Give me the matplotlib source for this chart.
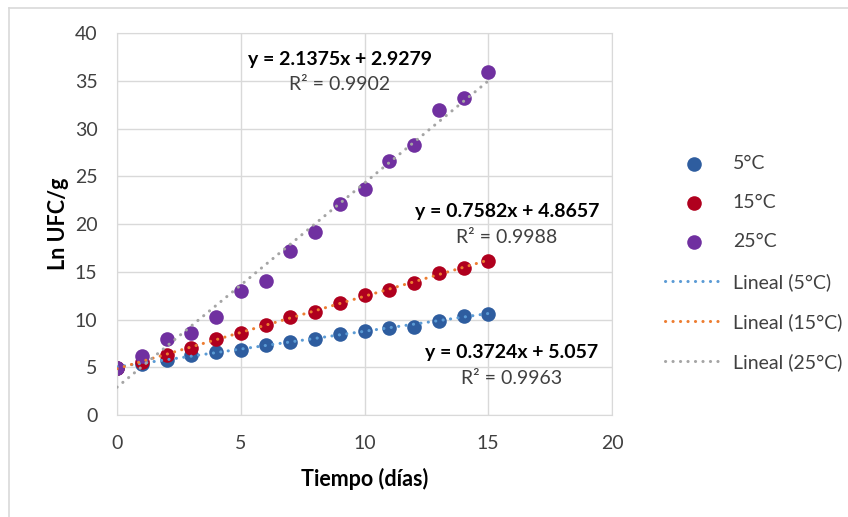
import matplotlib.pyplot as plt
import numpy as np
from matplotlib.lines import Line2D

plt.rcParams['font.family'] = ['Lato', 'DejaVu Sans']

# Days of measurement
dias = np.arange(0, 16)

# Ln UFC/g
ln_5 = [4.9, 5.4, 5.8, 6.3, 6.6, 6.85, 7.3, 7.65, 8.0, 8.45, 8.85, 9.1, 9.2, 9.9, 10.4, 10.6]
ln_15 = [4.9, 5.55, 6.3, 7.05, 8.0, 8.6, 9.45, 10.25, 10.85, 11.7, 12.6, 13.1, 13.85, 14.9, 15.4, 16.1]
ln_25 = [4.9, 6.15, 8.0, 8.6, 10.25, 13.05, 14.0, 17.2, 19.2, 22.1, 23.7, 26.6, 28.3, 31.9, 33.2, 35.9]

series_labels = ['5°C', '15°C', '25°C']
pendientes = [0.3724, 0.7582, 2.1375]
intercepts = [5.057, 4.8657, 2.9279]
r2_values = ['0.9963', '0.9988', '0.9902']
eq_texts = ['y = 0.3724x + 5.057', 'y = 0.7582x + 4.8657', 'y = 2.1375x + 2.9279']

point_colors = ['#2E5D9F', '#B0001E', '#7030A0']
trend_colors = ['#5B9BD5', '#ED7D31', '#A5A5A5']

fig = plt.figure(figsize=(8.48, 5.17), dpi=100)
ax = fig.add_axes([0.138, 0.197, 0.5837, 0.739])

grid_c = '#D9D9D9'
fs = 14
data = [ln_5, ln_15, ln_25]

# trendlines drawn over the points, as in the original
trend_handles = []
for i in range(3):
    yfit = pendientes[i] * dias + intercepts[i]
    h, = ax.plot(dias, yfit, linestyle=(0, (0.05, 2.4)), color=trend_colors[i],
                 lw=2.2, dash_capstyle='round', zorder=3,
                 label='Lineal (' + series_labels[i] + ')')
    trend_handles.append(h)

point_handles = []
for i in range(3):
    h = ax.scatter(dias, data[i], s=110, color=point_colors[i], zorder=2,
                   label=series_labels[i], linewidths=0)
    point_handles.append(h)

ax.set_xlim(0, 20)
ax.set_ylim(0, 40)
ax.set_xticks(range(0, 21, 5))
ax.set_yticks(range(0, 41, 5))
ax.grid(True, color=grid_c, lw=1)
ax.set_axisbelow(True)
for s in ax.spines.values():
    s.set_color(grid_c)
ax.tick_params(length=0, labelsize=fs, colors='#404040')
ax.tick_params(axis='y', pad=14)
ax.tick_params(axis='x', pad=14)

ax.set_xlabel('Tiempo (días)', fontsize=15.5, fontweight='bold', labelpad=12)
ax.set_ylabel('Ln UFC/g', fontsize=15.5, fontweight='bold', labelpad=4)

# regression equations
eq_pos = [(15.95, 6.6, 3.85), (15.75, 21.3, 18.65), (9.0, 37.2, 34.6)]
for i in range(3):
    x0, ye, yr = eq_pos[i]
    ax.text(x0, ye, eq_texts[i], ha='center', va='center', fontsize=fs,
            fontweight='bold', color='black', zorder=5)
    ax.text(x0, yr, 'R² = ' + r2_values[i], ha='center', va='center',
            fontsize=fs, color='#404040', zorder=5)

handles = point_handles + trend_handles
fig.legend(handles=handles, labels=[h.get_label() for h in handles],
           loc='upper left', bbox_to_anchor=(0.7724, 0.7195), frameon=False,
           fontsize=fs, handlelength=3.0, handletextpad=0.5,
           labelspacing=1.15, borderpad=0, labelcolor='#404040')

# chart area border (top and left visible)
fig.add_artist(Line2D([9 / 848, 1], [1 - 8 / 517, 1 - 8 / 517], color=grid_c, lw=1.2))
fig.add_artist(Line2D([9 / 848, 9 / 848], [0, 1 - 8 / 517], color=grid_c, lw=1.2))

fig.savefig('out.png', dpi=100)
